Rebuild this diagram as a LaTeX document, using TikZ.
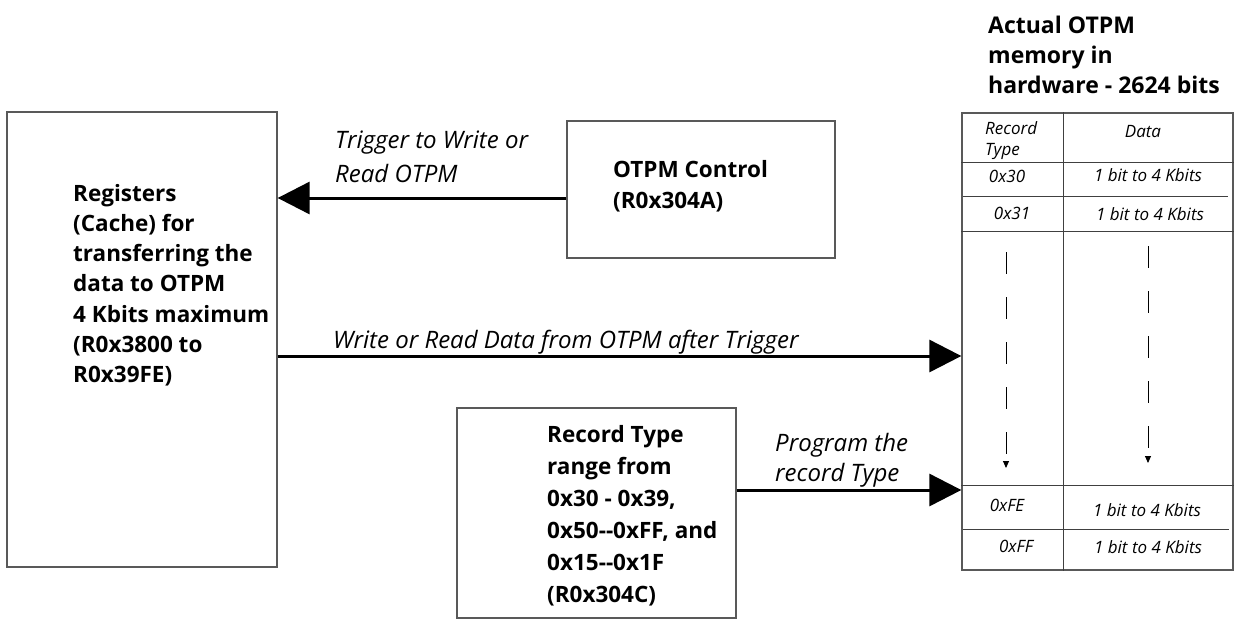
\documentclass[tikz,border=0pt]{standalone}
\usepackage{fontspec}
\setmainfont{Open Sans}
\usetikzlibrary{arrows.meta}
\begin{document}
\begin{tikzpicture}[x=1pt,y=-1pt,
  boxstyle/.style={draw=black!65, line width=1.3pt, rectangle, inner sep=0pt},
  boldtext/.style={inner sep=0pt, anchor=north west, align=left, font=\bfseries\fontsize{22.5}{30.2}\selectfont},
  itext/.style={inner sep=0pt, anchor=north west, align=left, font=\itshape\fontsize{24}{34}\selectfont},
  celltext/.style={inner sep=0pt, font=\itshape\fontsize{17}{21}\selectfont},
  bigarrow/.style={line width=3pt, -{Triangle[length=32pt,width=32pt]}},
  tabline/.style={draw=black!75, line width=1pt},
  dasharrow/.style={line width=0.9pt, dash pattern=on 22pt off 23pt, -{Triangle[length=7pt,width=6pt]}}
]
\useasboundingbox (0,0) rectangle (1236,619);

% boxes
\node[boxstyle, minimum width=270pt, minimum height=455pt] (reg) at (142,339.5) {};
\node[boxstyle, minimum width=268pt, minimum height=137pt] (ctrl) at (701,189.5) {};
\node[boxstyle, minimum width=279pt, minimum height=210pt] (rec) at (596.5,513) {};
\node[boxstyle, minimum width=271pt, minimum height=457pt] (tab) at (1097.5,341.5) {};

% box texts
\node[boldtext] (regtxt) at (73,184) {Registers\\(Cache) for\\transferring the\\data to OTPM\\4 Kbits maximum\\(R0x3800 to\\R0x39FE)};
\node[boldtext, font=\bfseries\fontsize{22.5}{31}\selectfont] (ctrltxt) at (613,160) {OTPM Control\\(R0x304A)};
\node[boldtext, font=\bfseries\fontsize{22.5}{32}\selectfont] (rectxt) at (547,425) {Record Type\\range from\\0x30 - 0x39,\\0x50-{}-0xFF, and\\0x15-{}-0x1F\\(R0x304C)};
\node[boldtext, font=\bfseries\fontsize{23}{30}\selectfont] (title) at (988,16) {Actual OTPM\\memory in\\hardware - 2624 bits};

% connectors
\coordinate (ty) at (0,198);
\coordinate (my) at (0,356);
\coordinate (py) at (0,490);
\draw[bigarrow] (ctrl.west |- ty) -- (reg.east |- ty);
\draw[bigarrow] (reg.east |- my) -- (tab.west |- my);
\draw[bigarrow] (rec.east |- py) -- (tab.west |- py);

% connector labels
\node[itext] (lbltrig) at (335,130.5) {Trigger to Write or\\Read OTPM};
\node[itext] (lblmid) at (333,329.5) {Write or Read Data from OTPM after Trigger};
\node[itext, font=\itshape\fontsize{24}{30}\selectfont] (lblprog) at (775,433.5) {Program the\\record Type};

% table lines
\coordinate (vdiv) at (1063,0);
\draw[tabline] (vdiv |- tab.north) -- (vdiv |- tab.south);
\draw[tabline] (tab.west |- 0,162) -- (tab.east |- 0,162);
\draw[tabline] (963,196) -- (1228,196);
\draw[tabline] (tab.west |- 0,231) -- (tab.east |- 0,231);
\draw[tabline] (tab.west |- 0,485) -- (tab.east |- 0,485);
\draw[tabline] (963,529) -- (1229,529);

% table texts
\node[celltext, anchor=north west, align=left] (hrec) at (985,121) {Record\\Type};
\node[celltext] (hdata) at (1143,132) {Data};
\node[celltext] (r1a) at (1007,176) {0x30};
\node[celltext] (r1b) at (1148,175) {1 bit to 4 Kbits};
\node[celltext] (r2a) at (1012,213) {0x31};
\node[celltext] (r2b) at (1150,214) {1 bit to 4 Kbits};
\node[celltext] (r3a) at (1007,505) {0xFE};
\node[celltext] (r3b) at (1147,510) {1 bit to 4 Kbits};
\node[celltext] (r4a) at (1016,546) {0xFF};
\node[celltext] (r4b) at (1148,547) {1 bit to 4 Kbits};

% dashed arrows
\coordinate (d1s) at (1006,252);
\coordinate (d1e) at (1006,468);
\coordinate (d2s) at (1148,246);
\coordinate (d2e) at (1148,463);
\draw[dasharrow] (d1s) -- (d1e);
\draw[dasharrow] (d2s) -- (d2e);
\end{tikzpicture}
\end{document}
